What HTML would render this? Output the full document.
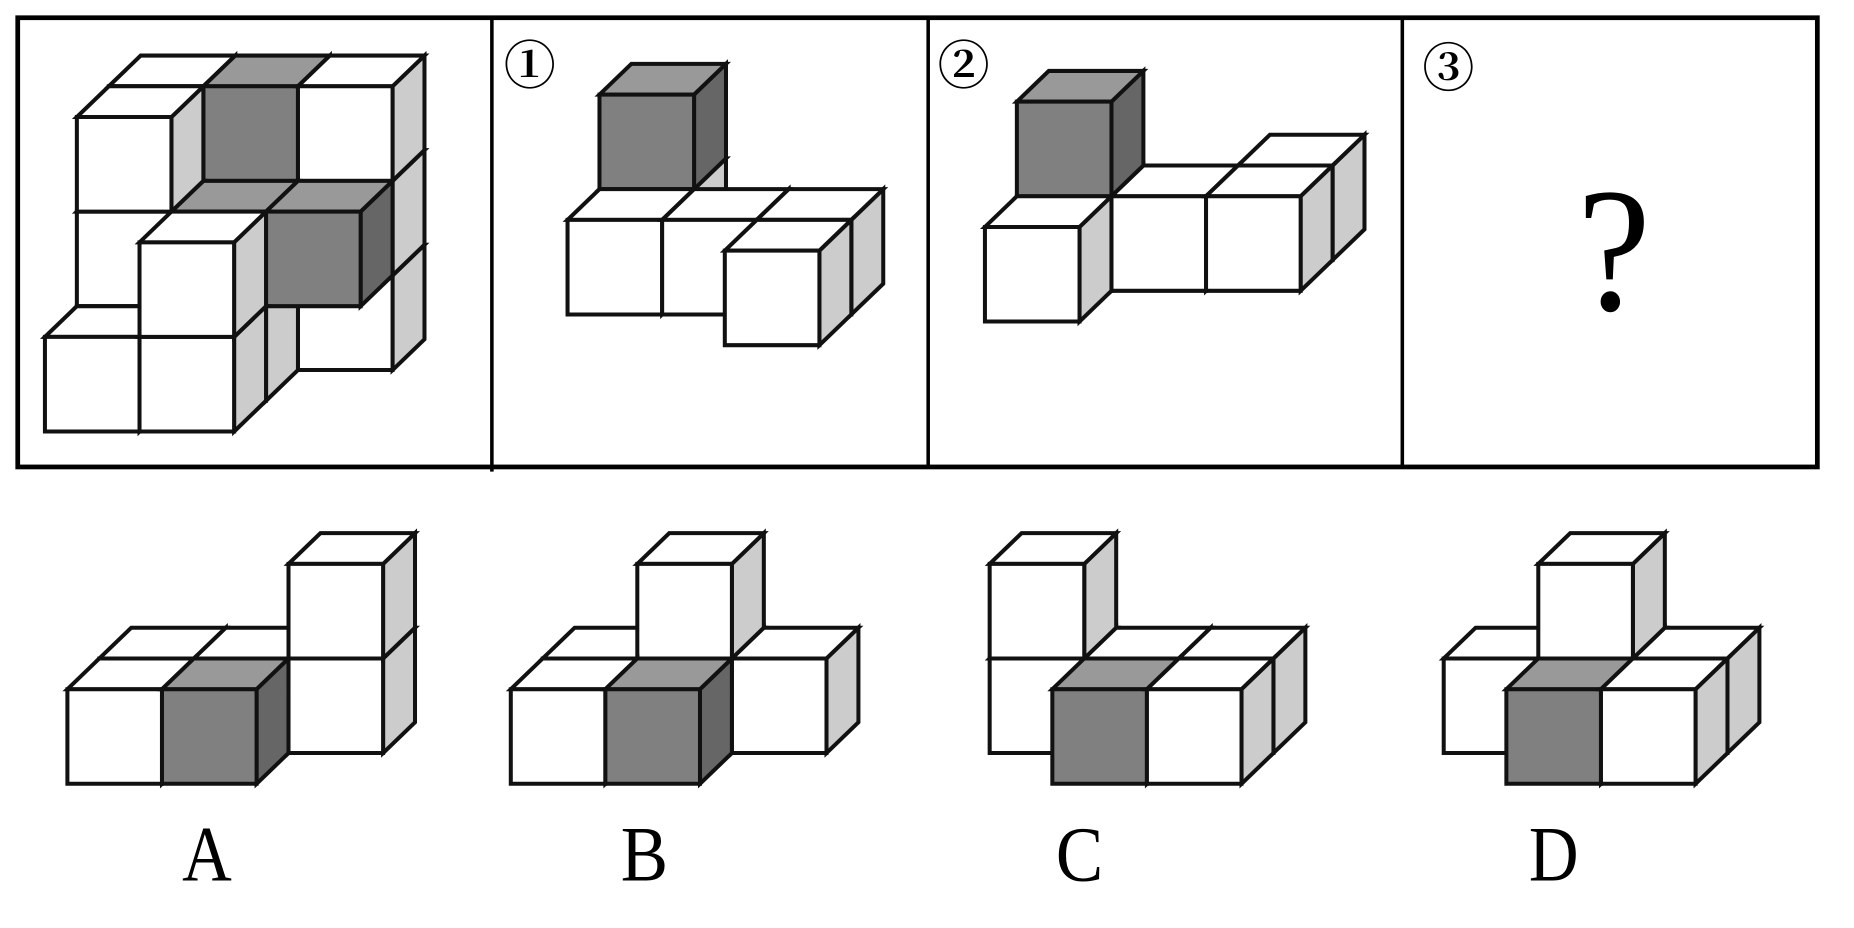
<!DOCTYPE html>
<html><head><meta charset="utf-8">
<style>
html,body{margin:0;padding:0;background:#fff;width:1854px;height:928px;overflow:hidden}
svg{display:block}
</style></head>
<body>
<svg id="s" width="1854" height="928" viewBox="0 0 1568 785" preserveAspectRatio="none" xmlns="http://www.w3.org/2000/svg">
<rect x="0" y="0" width="1568" height="785" fill="#fff"/>
<g id="cubes"></g>
<rect x="15" y="15" width="1522" height="380" fill="none" stroke="#000" stroke-width="4"/>
<line x1="416" y1="15" x2="416" y2="399" stroke="#000" stroke-width="3"/>
<line x1="785" y1="15" x2="785" y2="395" stroke="#000" stroke-width="3"/>
<line x1="1186" y1="15" x2="1186" y2="395" stroke="#000" stroke-width="3"/>
<g font-family="'Liberation Serif','Noto Serif CJK SC',serif" fill="#000">
<text x="426" y="71" font-size="44" font-weight="bold">①</text>
<text x="793" y="71" font-size="44" font-weight="bold">②</text>
<text x="1203" y="73" font-size="44" font-weight="bold">③</text>
<text x="1365" y="262" font-size="150" text-anchor="middle" textLength="62" lengthAdjust="spacingAndGlyphs">?</text>
<text x="154" y="745" font-size="66" textLength="42" lengthAdjust="spacingAndGlyphs">A</text>
<text x="525" y="745" font-size="66" textLength="40" lengthAdjust="spacingAndGlyphs">B</text>
<text x="893" y="745" font-size="66" textLength="40" lengthAdjust="spacingAndGlyphs">C</text>
<text x="1293" y="745" font-size="66" textLength="42" lengthAdjust="spacingAndGlyphs">D</text>
</g>
</svg>
<script>
(function(){
var NS="http://www.w3.org/2000/svg";
var g=document.getElementById("cubes");
var S=80,DX=27,DY=26;
function poly(pts,fill){
  var p=document.createElementNS(NS,"polygon");
  p.setAttribute("points",pts.map(function(a){return a[0]+","+a[1]}).join(" "));
  p.setAttribute("fill",fill);p.setAttribute("stroke","#111");
  p.setAttribute("stroke-width","3.4");p.setAttribute("stroke-linejoin","miter");
  g.appendChild(p);
}
function fig(X0,Y0,cubes){
  cubes.sort(function(a,b){return (b[2]-a[2])||(a[1]-b[1])||(a[0]-b[0]);});
  cubes.forEach(function(c){
    var x0=X0+S*c[0]+DX*c[2], y0=Y0-S*c[1]-DY*c[2], gr=c[3];
    poly([[x0+S,y0],[x0+S+DX,y0-DY],[x0+S+DX,y0-S-DY],[x0+S,y0-S]], gr?"#666":"#ccc");
    poly([[x0,y0-S],[x0+S,y0-S],[x0+S+DX,y0-S-DY],[x0+DX,y0-S-DY]], gr?"#999":"#fff");
    poly([[x0,y0],[x0+S,y0],[x0+S,y0-S],[x0,y0-S]], gr?"#808080":"#fff");
  });
}
fig(38,365,[[0,0,0],[1,0,0],[1,1,0],[0,0,1],[1,0,1],[0,1,1],[1,1,1,1],[2,1,1,1],[0,2,1],
  [0,2,2],[1,2,2,1],[2,2,2],[2,1,2],[2,0,2]]);
fig(453,292,[[2,0,0],[0,0,1],[1,0,1],[2,0,1],[0,0,2],[0,1,2,1]]);
fig(833,272,[[0,0,0],[0,0,1],[0,1,1,1],[1,0,1],[2,0,1],[2,0,2]]);
fig(57,663,[[0,0,0],[1,0,0,1],[0,0,1],[1,0,1],[2,0,1],[2,1,1]]);
fig(432,663,[[0,0,0],[1,0,0,1],[0,0,1],[1,0,1],[2,0,1],[1,1,1]]);
fig(810,663,[[1,0,0,1],[2,0,0],[0,0,1],[0,1,1],[1,0,1],[2,0,1]]);
fig(1194,663,[[1,0,0,1],[2,0,0],[0,0,1],[1,0,1],[2,0,1],[1,1,1]]);
})();
</script>
</body></html>
